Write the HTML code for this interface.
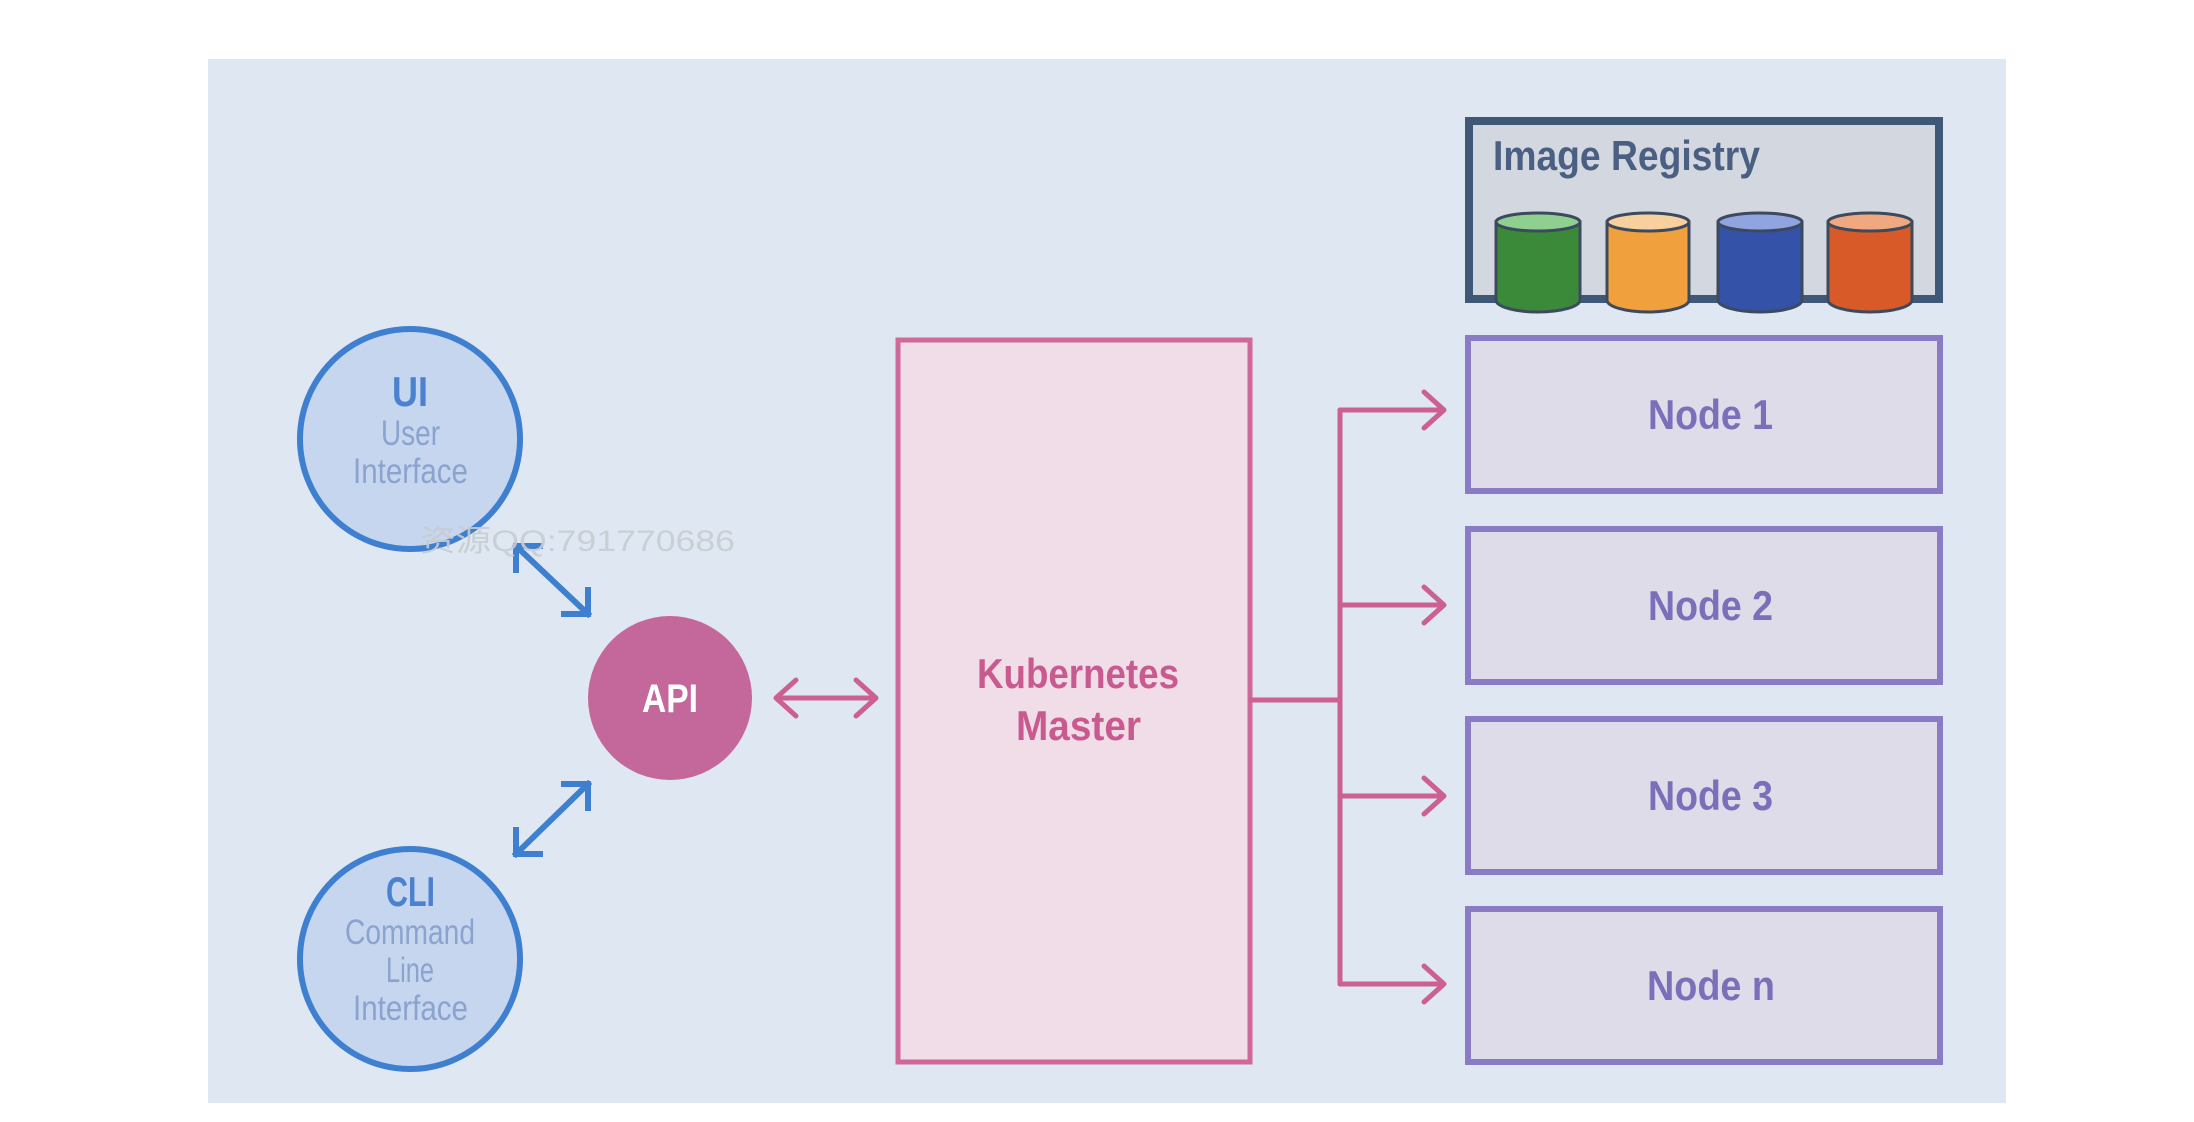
<!DOCTYPE html>
<html><head><meta charset="utf-8"><style>
html,body{margin:0;padding:0;background:#fff;}
svg{display:block;}
text{font-family:"Liberation Sans Narrow","Liberation Sans","Noto Sans CJK SC",sans-serif;}
</style></head><body>
<svg width="2194" height="1122" viewBox="0 0 2194 1122" xmlns="http://www.w3.org/2000/svg">
<rect x="0" y="0" width="2194" height="1122" fill="#ffffff"/>
<rect x="208" y="59" width="1798" height="1044" fill="#dfe8f2"/>

<!-- Image registry -->
<rect x="1469" y="121" width="470" height="178" fill="#d3d8e0" stroke="#3f5878" stroke-width="8"/>
<text x="1493" y="170" font-size="42" font-weight="bold" fill="#4a5f82" textLength="267" lengthAdjust="spacingAndGlyphs">Image Registry</text>
<g stroke="#3d4a5e" stroke-width="3">
  <path d="M1496 222 V300 A42 12 0 0 0 1580 300 V222 Z" fill="#3a8a3a"/>
  <ellipse cx="1538" cy="222" rx="42" ry="9" fill="#8fcf8f"/>
  <path d="M1607 222 V300 A41 12 0 0 0 1689 300 V222 Z" fill="#f0a03c"/>
  <ellipse cx="1648" cy="222" rx="41" ry="9" fill="#f8d0a0"/>
  <path d="M1718 222 V300 A42 12 0 0 0 1802 300 V222 Z" fill="#3453a8"/>
  <ellipse cx="1760" cy="222" rx="42" ry="9" fill="#8fa4e0"/>
  <path d="M1828 222 V300 A42 12 0 0 0 1912 300 V222 Z" fill="#d85a28"/>
  <ellipse cx="1870" cy="222" rx="42" ry="9" fill="#f0a880"/>
</g>

<!-- Nodes -->
<g fill="#dedce9" stroke="#8a7cc4" stroke-width="6">
  <rect x="1468" y="338" width="472" height="153"/>
  <rect x="1468" y="529" width="472" height="153"/>
  <rect x="1468" y="719" width="472" height="153"/>
  <rect x="1468" y="909" width="472" height="153"/>
</g>
<g font-size="42" font-weight="bold" fill="#7c6fb9">
  <text x="1648" y="429" textLength="125" lengthAdjust="spacingAndGlyphs">Node 1</text>
  <text x="1648" y="620" textLength="125" lengthAdjust="spacingAndGlyphs">Node 2</text>
  <text x="1648" y="810" textLength="125" lengthAdjust="spacingAndGlyphs">Node 3</text>
  <text x="1647" y="1000" textLength="128" lengthAdjust="spacingAndGlyphs">Node n</text>
</g>

<!-- Master -->
<rect x="898" y="340" width="352" height="722" fill="#f1dde8" stroke="#d0689a" stroke-width="5"/>
<g font-size="42" font-weight="bold" fill="#c85a8f">
  <text x="977" y="688" textLength="202" lengthAdjust="spacingAndGlyphs">Kubernetes</text>
  <text x="1016" y="740" textLength="125" lengthAdjust="spacingAndGlyphs">Master</text>
</g>

<!-- Master to nodes connectors -->
<g stroke="#cc5f93" stroke-width="5" fill="none" stroke-linecap="round" stroke-linejoin="round">
  <path d="M1251 700 H1340"/>
  <path d="M1340 410 V984"/>
  <path d="M1340 410 H1444 M1424 392 L1444 410 L1424 428"/>
  <path d="M1340 605 H1444 M1424 587 L1444 605 L1424 623"/>
  <path d="M1340 796 H1444 M1424 778 L1444 796 L1424 814"/>
  <path d="M1340 984 H1444 M1424 966 L1444 984 L1424 1002"/>
  <path d="M776 698 H876 M796 680 L776 698 L796 716 M856 680 L876 698 L856 716"/>
</g>

<!-- API -->
<circle cx="670" cy="698" r="82" fill="#c4679a"/>
<text x="642" y="712" font-size="40" font-weight="bold" fill="#ffffff" textLength="56" lengthAdjust="spacingAndGlyphs">API</text>

<!-- UI -->
<circle cx="410" cy="439" r="110" fill="#c5d6ee" stroke="#3f7fcf" stroke-width="6"/>
<text x="392" y="406" font-size="42" font-weight="bold" fill="#4a82cf" textLength="36" lengthAdjust="spacingAndGlyphs">UI</text>
<g font-size="35" fill="#8aa3cf">
  <text x="381" y="445" textLength="59" lengthAdjust="spacingAndGlyphs">User</text>
  <text x="353" y="483" textLength="115" lengthAdjust="spacingAndGlyphs">Interface</text>
</g>

<!-- CLI -->
<circle cx="410" cy="959" r="110" fill="#c5d6ee" stroke="#3f7fcf" stroke-width="6"/>
<text x="386" y="906" font-size="42" font-weight="bold" fill="#4a82cf" textLength="49" lengthAdjust="spacingAndGlyphs">CLI</text>
<g font-size="35" fill="#8aa3cf">
  <text x="345" y="944" textLength="130" lengthAdjust="spacingAndGlyphs">Command</text>
  <text x="386" y="982" textLength="48" lengthAdjust="spacingAndGlyphs">Line</text>
  <text x="353" y="1020" textLength="115" lengthAdjust="spacingAndGlyphs">Interface</text>
</g>

<!-- blue arrows -->
<g stroke="#3f7fcf" stroke-width="6" fill="none" stroke-linecap="square">
  <path d="M516 546 L588 614 M516 546 V570 M516 546 H540 M588 614 V590 M588 614 H564"/>
  <path d="M588 784 L516 854 M588 784 V808 M588 784 H564 M516 854 V830 M516 854 H540"/>
</g>

<!-- watermark -->
<text x="420" y="551" font-size="30" fill="#c8ccd2" opacity="0.9" textLength="315" lengthAdjust="spacingAndGlyphs">资源QQ:791770686</text>
</svg>
</body></html>
